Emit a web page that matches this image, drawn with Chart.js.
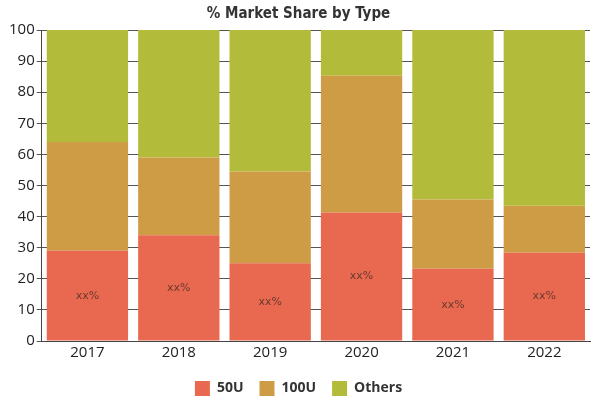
<!DOCTYPE html>
<html>
<head>
<meta charset="utf-8">
<script src="https://cdn.jsdelivr.net/npm/chart.js@4"></script>
<style>
  html, body { margin: 0; padding: 0; background: #fff; }
  #wrap { width: 600px; height: 400px; }
</style>
</head>
<body>
<div id="wrap"><canvas id="shareChart"></canvas></div>
<script>
const years = ["2017", "2018", "2019", "2020", "2021", "2022"];
const share50U = [29, 34, 25, 41.3, 23.2, 28.4];
const share100U = [35, 25, 29.5, 44, 22.3, 15.1];
const shareOthers = [36, 41, 45.5, 14.7, 54.5, 56.5];
const segmentLabel = "xx%";

const ctx = document.getElementById("shareChart").getContext("2d");

// writes the "xx%" tag in the middle of each 50U segment
const segmentText = {
  id: "segmentText",
  afterDatasetsDraw(chart) {
    const meta = chart.getDatasetMeta(0);
    const c = chart.ctx;
    c.save();
    c.font = "11px 'DejaVu Sans', sans-serif";
    c.fillStyle = "#6b3a2e";
    c.textAlign = "center";
    c.textBaseline = "middle";
    meta.data.forEach(bar => {
      c.fillText(segmentLabel, bar.x, (bar.y + bar.base) / 2);
    });
    c.restore();
  }
};

const chart = new Chart(ctx, {
  type: "bar",
  data: {
    labels: years,
    datasets: [
      { label: "50U", data: share50U, backgroundColor: "#e8694f" },
      { label: "100U", data: share100U, backgroundColor: "#cf9c46" },
      { label: "Others", data: shareOthers, backgroundColor: "#b3bc3a" }
    ]
  },
  options: {
    responsive: true,
    maintainAspectRatio: false,
    animation: false,
    barPercentage: 0.89,
    categoryPercentage: 1,
    layout: { padding: { left: 7, right: 10, top: 0, bottom: -6 } },
    plugins: {
      title: {
        display: true,
        text: "% Market Share by Type",
        color: "#333",
        font: { family: "'DejaVu Sans Condensed', sans-serif", size: 15, weight: "bold" },
        padding: { top: 5, bottom: 7 }
      },
      legend: {
        position: "bottom",
        labels: {
          boxWidth: 15,
          boxHeight: 15,
          color: "#333",
          padding: 16,
          font: { family: "'Open Sans', sans-serif", size: 14, weight: "bold" }
        }
      },
      tooltip: { enabled: false }
    },
    scales: {
      x: {
        stacked: true,
        grid: { display: false, drawTicks: false },
        border: { color: "#444" },
        ticks: { color: "#222", padding: 3, font: { family: "'Open Sans', sans-serif", size: 15 } }
      },
      y: {
        stacked: true,
        min: 0,
        max: 100,
        ticks: { stepSize: 10, color: "#222", padding: 2, font: { family: "'Open Sans', sans-serif", size: 15 } },
        grid: { color: "#555", tickLength: 5 },
        border: { color: "#444" }
      }
    }
  },
  plugins: [segmentText]
});
</script>
</body>
</html>
